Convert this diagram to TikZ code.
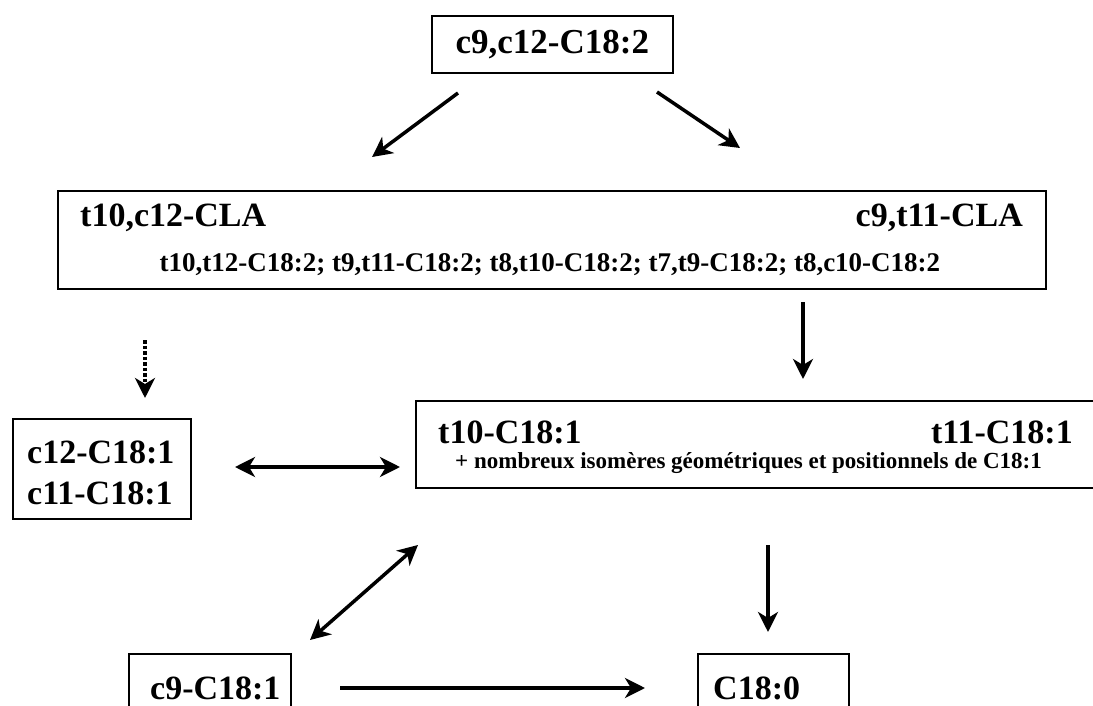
\documentclass[tikz,border=0pt]{standalone}
\usepackage{fontspec}
\setmainfont{Liberation Serif}
\usetikzlibrary{arrows.meta}
\begin{document}
\begin{tikzpicture}[x=1pt,y=-1pt,
  box/.style={draw, line width=1.6pt, inner sep=0pt, anchor=north west},
  lbl/.style={font=\bfseries\fontsize{#1}{#1}\selectfont, inner sep=0pt},
  arr/.style={line width=3.5pt, -{Stealth[length=20pt,width=20pt,inset=6pt]}},
  darr/.style={line width=3.5pt, {Stealth[length=20pt,width=20pt,inset=6pt]}-{Stealth[length=20pt,width=20pt,inset=6pt]}},
  dotarr/.style={line width=3.5pt, dotted, -{Stealth[length=20pt,width=20pt,inset=6pt]}}]
\useasboundingbox (0,0) rectangle (1093,706);
\clip (0,0) rectangle (1093,706);

% boxes
\node[box, minimum width=241pt, minimum height=57pt] (top) at (431,15) {};
\node[box, minimum width=988pt, minimum height=98pt] (cla) at (57,190) {};
\node[box, minimum width=178pt, minimum height=100pt] (cis) at (12,418) {};
\node[box, minimum width=690pt, minimum height=87pt] (trans) at (415,400) {};
\node[box, minimum width=162pt, minimum height=80pt] (cnine) at (128,653) {};
\node[box, minimum width=151pt, minimum height=80pt] (stear) at (697,653) {};

% texts
\node[lbl=35] (ttop) at (top.center) {c9,c12-C18:2};
\node[lbl=34, anchor=west] (tcla1) at (80,218) {t10,c12-CLA};
\node[lbl=34, anchor=east] (tcla2) at (1023,218) {c9,t11-CLA};
\node[lbl=27] (tcla3) at (550,265) {t10,t12-C18:2; t9,t11-C18:2; t8,t10-C18:2; t7,t9-C18:2; t8,c10-C18:2};
\node[lbl=34, anchor=west] (tcis1) at (27,452) {c12-C18:1};
\node[lbl=34, anchor=west] (tcis2) at (27,493) {c11-C18:1};
\node[lbl=34, anchor=west] (ttr1) at (438,432) {t10-C18:1};
\node[lbl=34, anchor=east] (ttr2) at (1073,432) {t11-C18:1};
\node[lbl=23, anchor=west] (ttr3) at (455,463) {+ nombreux isomères géométriques et positionnels de C18:1};
\node[lbl=34, anchor=west] (tc9) at (150,688) {c9-C18:1};
\node[lbl=34, anchor=west] (tst) at (713,688) {C18:0};

% arrow end points
\coordinate (a1s) at (458,93);  \coordinate (a1e) at (372,157);
\coordinate (a2s) at (657,92);  \coordinate (a2e) at (740,148);
\coordinate (a3s) at (145,340); \coordinate (a3e) at (145,398);
\coordinate (a4s) at (803,302); \coordinate (a4e) at (803,379);
\coordinate (a5s) at (235,467); \coordinate (a5e) at (400,467);
\coordinate (a6s) at (418,545); \coordinate (a6e) at (310,640);
\coordinate (a7s) at (768,545); \coordinate (a7e) at (768,632);
\coordinate (a8s) at (340,688); \coordinate (a8e) at (645,688);

\draw[arr] (a1s) -- (a1e);
\draw[arr] (a2s) -- (a2e);
\draw[dotarr] (a3s) -- (a3e);
\draw[arr] (a4s) -- (a4e);
\draw[darr] (a5s) -- (a5e);
\draw[darr] (a6s) -- (a6e);
\draw[arr] (a7s) -- (a7e);
\draw[arr] (a8s) -- (a8e);
\end{tikzpicture}
\end{document}
